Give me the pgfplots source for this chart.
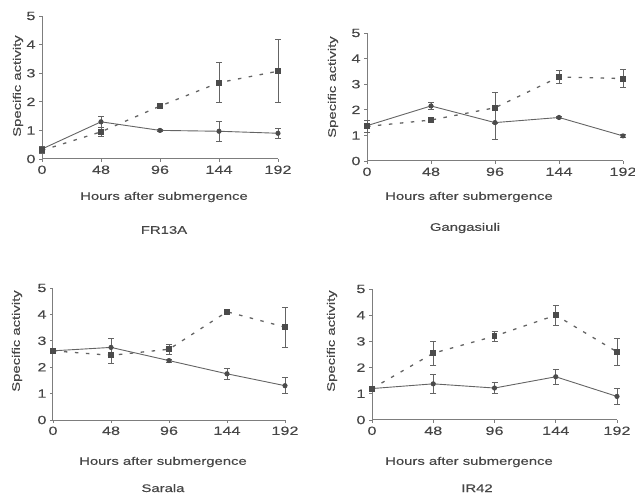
\documentclass[border=0pt]{standalone}
\usepackage{fontspec}
\setmainfont{Liberation Sans}[FakeStretch=1.35, FakeBold=0.3]
\usepackage{pgfplots}
\usepackage{pgfplotstable}
\pgfplotsset{compat=1.18}
\definecolor{txt}{RGB}{70,70,70}
\definecolor{axcol}{RGB}{125,125,125}
\definecolor{lc}{RGB}{100,100,100}
\definecolor{mc}{RGB}{75,75,75}

% x: hours, s/se: solid series, d/de: dashed series
\pgfplotstableread{
x    s     se    d     de
0    0.35  0.08  0.30  0.10
48   1.30  0.20  0.95  0.15
96   1.00  0.04  1.85  0.06
144  0.97  0.35  2.67  0.70
192  0.90  0.18  3.07  1.10
}\tabFR
\pgfplotstableread{
x    s     se    d     de
0    1.38  0.10  1.35  0.25
48   2.15  0.15  1.60  0.08
96   1.50  0.65  2.08  0.60
144  1.70  0.05  3.28  0.25
192  0.98  0.05  3.22  0.35
}\tabGa
\pgfplotstableread{
x    s     se    d     de
0    2.62  0.05  2.62  0.05
48   2.75  0.35  2.45  0.30
96   2.25  0.05  2.68  0.20
144  1.75  0.20  4.10  0.05
192  1.30  0.30  3.52  0.75
}\tabSa
\pgfplotstableread{
x    s     se    d     de
0    1.20  0.10  1.20  0.10
48   1.38  0.35  2.55  0.45
96   1.22  0.22  3.20  0.20
144  1.65  0.30  4.00  0.38
192  0.90  0.32  2.60  0.50
}\tabIR

\pgfplotsset{
  panel/.style={
    scale only axis, anchor=south west,
    xmin=0, xmax=192, ymin=0, ymax=5,
    xtick={0,48,96,144,192}, ytick={0,1,2,3,4,5},
    axis lines=left,
    axis line style={-, draw=axcol, line width=1pt},
    tick style={draw=axcol, line width=0.9pt},
    tick align=outside, major tick length=3pt,
    tick label style={font=\fontsize{12}{14}\selectfont, text=txt},
    /pgf/number format/assume math mode=true,
    clip=false,
  },
  solidser/.style={
    color=lc, line width=0.9pt,
    mark=*, mark size=2.1pt, mark options={solid, fill=mc, draw=mc},
    error bars/.cd, y dir=both, y explicit,
    error bar style={solid, line width=0.7pt, color=lc},
    error mark options={rotate=90, mark size=3pt, line width=0.7pt, color=lc},
  },
  dashser/.style={
    color=lc, line width=1.3pt, dash pattern=on 3.5pt off 7.5pt,
    mark=square*, mark size=2.3pt, mark options={solid, fill=mc, draw=mc},
    error bars/.cd, y dir=both, y explicit,
    error bar style={solid, line width=0.7pt, color=lc},
    error mark options={rotate=90, mark size=3pt, line width=0.7pt, color=lc},
  },
}

\begin{document}
\begin{tikzpicture}[font=\fontsize{11}{13}\selectfont, every node/.append style={text=txt}]
\useasboundingbox (0,0) rectangle (635pt,493pt);

% FR13A
\begin{axis}[panel, at={(42pt,334pt)}, width=236pt, height=143pt]
  \addplot[solidser] table[x=x, y=s, y error=se] {\tabFR};
  \addplot[dashser] table[x=x, y=d, y error=de] {\tabFR};
\end{axis}
\node[rotate=90] at (18pt,407pt) {Specific activity};
\node at (164pt,296pt) {Hours after submergence};
\node at (164pt,263pt) {FR13A};

% Gangasiuli
\begin{axis}[panel, at={(367pt,332pt)}, width=256pt, height=128pt]
  \addplot[solidser] table[x=x, y=s, y error=se] {\tabGa};
  \addplot[dashser] table[x=x, y=d, y error=de] {\tabGa};
\end{axis}
\node[rotate=90] at (333pt,406pt) {Specific activity};
\node at (469pt,296pt) {Hours after submergence};
\node at (465pt,265pt) {Gangasiuli};

% Sarala
\begin{axis}[panel, at={(53pt,73pt)}, width=232pt, height=132pt]
  \addplot[solidser] table[x=x, y=s, y error=se] {\tabSa};
  \addplot[dashser] table[x=x, y=d, y error=de] {\tabSa};
\end{axis}
\node[rotate=90] at (17pt,152pt) {Specific activity};
\node at (163pt,31pt) {Hours after submergence};
\node[anchor=base] at (163pt,1pt) {Sarala};

% IR42
\begin{axis}[panel, at={(372pt,73pt)}, width=245pt, height=131pt]
  \addplot[solidser] table[x=x, y=s, y error=se] {\tabIR};
  \addplot[dashser] table[x=x, y=d, y error=de] {\tabIR};
\end{axis}
\node[rotate=90] at (332pt,152pt) {Specific activity};
\node at (469pt,31pt) {Hours after submergence};
\node[anchor=base] at (477pt,1pt) {IR42};
\end{tikzpicture}
\end{document}
